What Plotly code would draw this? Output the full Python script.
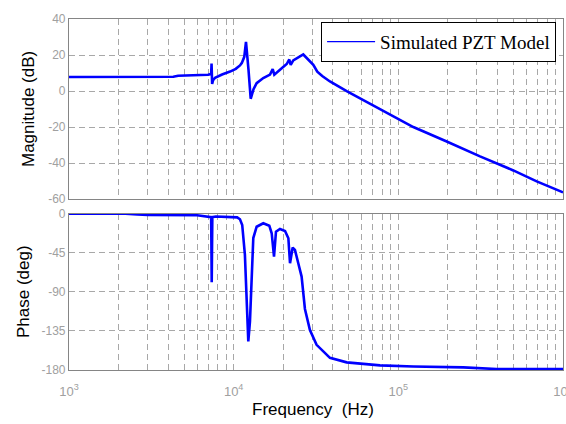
import plotly.graph_objects as go

# ---- data ----
mag_freq = [1000, 2000, 4000, 4300, 4600, 6000, 7000, 7300, 7340, 7400, 7500, 7710, 8500, 9510,
            10300, 10920, 11200, 11600, 11880, 12300, 12690, 13200, 13790, 15130, 16620, 17260,
            17650, 19110, 21000, 21770, 22200, 23010, 26470, 30450, 32200, 34500, 38440, 48550,
            61240, 77380, 97720, 123300, 196700, 313400, 499200, 692400, 1000000]
mag_db = [7.8, 7.8, 7.8, 7.9, 8.5, 8.8, 9.0, 9.5, 15.3, 3.9, 6.0, 7.4, 9.2, 10.8,
          12.3, 14.2, 15.5, 19.0, 27.3, 12.0, -4.3, 1.0, 4.4, 7.2, 9.1, 12.2,
          9.1, 11.8, 15.0, 17.5, 14.5, 17.0, 20.3, 14.6, 10.7, 8.3, 5.3, -0.1,
          -5.1, -10.2, -15.3, -20.0, -28.0, -36.3, -44.1, -50.2, -56.3]

ph_freq = [1000, 2200, 2600, 3000, 6000, 6800, 7300, 7357, 7420, 7800, 9800, 10500, 10920,
           11270, 11700, 12270, 12560, 12870, 13160, 13790, 15130, 16460, 17020, 17580, 18070,
           19110, 20510, 21490, 21990, 22820, 23560, 24680, 25860, 27090, 29050, 31890, 34990,
           38440, 48550, 77380, 123300, 247900, 395600, 1000000]
ph_deg = [0, 0, -1, -1.5, -1.8, -3, -4, -79, -4, -3.2, -3.4, -4.2, -6.4,
          -13, -47, -147, -124, -67, -28, -15, -11, -13.8, -22.5, -49.4, -20.7,
          -17.6, -19.9, -28.3, -57, -39, -41.7, -57, -72.4, -109.7, -134, -151, -158.6,
          -166, -171.2, -174.7, -175.9, -177, -178.9, -179]

series_name = "Simulated PZT Model"
mag_ticks = [-60, -40, -20, 0, 20, 40]
ph_ticks = [-180, -135, -90, -45, 0]

# log grid positions
grid_vals, grid_text = [], []
for d in (3, 4, 5):
    for m in range(1, 10):
        grid_vals.append(m * 10 ** d)
        grid_text.append(f"10<sup>{d}</sup>" if m == 1 else "")
grid_vals.append(10 ** 6)
grid_text.append("10<sup>6</sup>")

BLUE = "#0000ff"
GRID = "#a8a8a8"
FRAME = "#858585"
TICKC = "#a0a0a0"
DASH = "6px,4px"

fig = go.Figure()
fig.add_trace(go.Scatter(x=mag_freq, y=mag_db, mode="lines", line=dict(color=BLUE, width=2.6),
                         showlegend=False, xaxis="x", yaxis="y"))
fig.add_trace(go.Scatter(x=ph_freq, y=ph_deg, mode="lines", line=dict(color=BLUE, width=2.6),
                         showlegend=False, xaxis="x2", yaxis="y2"))
fig.add_trace(go.Scatter(x=[None], y=[None], mode="lines", line=dict(color=BLUE, width=1.2),
                         name=series_name, xaxis="x", yaxis="y"))

common_x = dict(type="log", range=[3, 6], tickmode="array", tickvals=grid_vals, ticktext=grid_text,
                showgrid=True, gridcolor=GRID, griddash=DASH, gridwidth=1,
                showline=True, linecolor=FRAME, linewidth=1.2, mirror=True,
                zeroline=False, automargin=False, ticks="", ticklabeloverflow="allow",
                tickfont=dict(family="Liberation Sans", size=13, color=TICKC))
common_y = dict(showgrid=True, gridcolor=GRID, griddash=DASH, gridwidth=1,
                showline=True, linecolor=FRAME, linewidth=1.2, mirror=True,
                zeroline=False, automargin=False, ticks="", tickmode="array",
                tickfont=dict(family="Liberation Sans", size=12, color=TICKC))

fig.update_layout(
    template="none",
    width=566, height=424,
    margin=dict(l=69, r=3, t=19, b=54),
    paper_bgcolor="white", plot_bgcolor="white",
    xaxis=dict(common_x, anchor="y", showticklabels=False),
    yaxis=dict(common_y, domain=[0.487, 1.0], range=[-60, 40], tickvals=mag_ticks,
               ticktext=[str(v) for v in mag_ticks]),
    xaxis2=dict(common_x, anchor="y2", ticklabelstandoff=9),
    yaxis2=dict(common_y, domain=[0.0, 0.4453], range=[-180, 0], tickvals=ph_ticks,
                ticktext=[str(v) for v in ph_ticks]),
    legend=dict(x=0.986, y=0.992, xanchor="right", yanchor="top", bgcolor="white",
                bordercolor="black", borderwidth=1, itemwidth=48,
                font=dict(family="Liberation Serif", size=19, color="black")),
    annotations=[
        dict(text="Magnitude (dB)", textangle=-90, xref="paper", yref="paper",
             x=(29 - 69) / 494, y=(370 - 109) / 351, xanchor="center", yanchor="middle",
             showarrow=False, font=dict(family="Liberation Sans", size=17, color="black")),
        dict(text="Phase (deg)", textangle=-90, xref="paper", yref="paper",
             x=(23 - 69) / 494, y=(370 - 292) / 351, xanchor="center", yanchor="middle",
             showarrow=False, font=dict(family="Liberation Sans", size=17, color="black")),
        dict(text="Frequency  (Hz)", xref="paper", yref="paper",
             x=(313 - 69) / 494, y=(370 - 410) / 351, xanchor="center", yanchor="middle",
             showarrow=False, font=dict(family="Liberation Sans", size=17, color="black")),
    ],
)

fig.write_html("out.html")
